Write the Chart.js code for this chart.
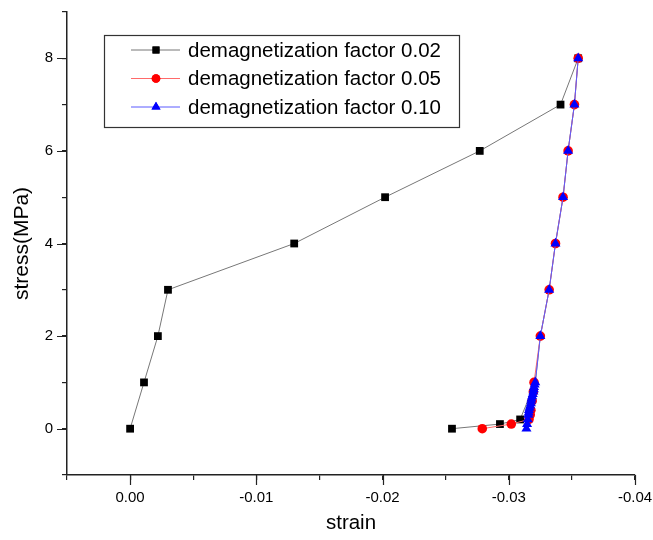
<!DOCTYPE html>
<html>
<head>
<meta charset="utf-8">
<script src="https://cdn.jsdelivr.net/npm/chart.js@4/dist/chart.umd.min.js"></script>
<style>
  body { margin: 0; background: #fff; }
  #wrap { width: 653px; height: 540px; }
</style>
</head>
<body>
<div id="wrap"><canvas id="chart" width="653" height="540"></canvas></div>
<script>
// values
const seriesNames = ["demagnetization factor 0.02", "demagnetization factor 0.05", "demagnetization factor 0.10"];

// factor 0.02: loading, then unloading along the steep branch
const strain002 = [0, -0.0011, -0.0022, -0.0030, -0.0130, -0.0202, -0.0277, -0.0341, -0.0355,
                   -0.0352, -0.0347, -0.0343, -0.0337, -0.0332, -0.0325, -0.0321,
                   -0.0309, -0.0293, -0.0255];
const stress002 = [0, 1, 2, 3, 4, 5, 6, 7, 8,
                   7, 6, 5, 4, 3, 2, 1,
                   0.2, 0.1, 0];
// unloading points 7..1 sit under the other markers and are not shown
const shown002 = [1, 1, 1, 1, 1, 1, 1, 1, 1,
                  0, 0, 0, 0, 0, 0, 0,
                  1, 1, 1];

// factor 0.05
const strain005 = [-0.0355, -0.0352, -0.0347, -0.0343, -0.0337, -0.0332, -0.0325, -0.0320,
                   -0.03195, -0.03185, -0.03175, -0.0317, -0.0316, -0.0302, -0.0279];
const stress005 = [8, 7, 6, 5, 4, 3, 2, 1,
                   0.8, 0.6, 0.4, 0.3, 0.2, 0.1, 0];

// factor 0.10
const strain010 = [-0.0355, -0.0352, -0.0347, -0.0343, -0.0337, -0.0332, -0.0325, -0.0321,
                   -0.03205, -0.0320, -0.03198, -0.03195, -0.0319, -0.03185, -0.0318, -0.03178,
                   -0.03175, -0.0317, -0.03165, -0.0316, -0.03158, -0.03155, -0.0315, -0.03145, -0.0314];
const stress010 = [8, 7, 6, 5, 4, 3, 2, 1,
                   0.95, 0.9, 0.85, 0.8, 0.75, 0.7, 0.65, 0.6,
                   0.55, 0.5, 0.45, 0.4, 0.35, 0.3, 0.2, 0.1, 0];

const xMajorLabels = [0, -0.01, -0.02, -0.03, -0.04];
const yMajorLabels = [0, 2, 4, 6, 8];

function toPoints(xs, ys) {
  return xs.map((x, i) => ({ x: x, y: ys[i] }));
}

const styles = [
  { line: "#777777", fill: "#000000", point: "rect", radius: 5.5 },
  { line: "#ff6a6a", fill: "#ff0000", point: "circle", radius: 4.8 },
  { line: "#5a5aff", fill: "#0000ff", point: "triangle", radius: 5.8 }
];

const datasets = [
  { data: toPoints(strain002, stress002), order: 3, pointRadius: shown002.map(s => s * styles[0].radius) },
  { data: toPoints(strain005, stress005), order: 2, pointRadius: styles[1].radius },
  { data: toPoints(strain010, stress010), order: 1, pointRadius: styles[2].radius }
].map((d, i) => Object.assign(d, {
  label: seriesNames[i],
  showLine: true,
  borderColor: styles[i].line,
  borderWidth: 1,
  pointStyle: styles[i].point,
  pointBackgroundColor: styles[i].fill,
  pointBorderColor: styles[i].fill,
  pointBorderWidth: 0,
  tension: 0
}));

// legend box inside the plot, plus longer major ticks
const boxLegend = {
  id: "boxLegend",
  afterDraw(chart) {
    const ctx = chart.ctx;
    const xs = chart.scales.x, ys = chart.scales.y;
    ctx.save();
    ctx.strokeStyle = "#222";
    ctx.lineWidth = 1.2;
    ctx.beginPath();
    xMajorLabels.forEach(v => {
      const px = Math.round(xs.getPixelForValue(v)) + 0.5;
      ctx.moveTo(px, xs.top);
      ctx.lineTo(px, xs.top + 10);
    });
    yMajorLabels.forEach(v => {
      const py = Math.round(ys.getPixelForValue(v)) + 0.5;
      ctx.moveTo(ys.right, py);
      ctx.lineTo(ys.right - 10, py);
    });
    ctx.stroke();

    const x0 = 104, y0 = 35, w = 355, h = 92;
    ctx.strokeStyle = "#333";
    ctx.strokeRect(x0 + 0.5, y0 + 0.5, w, h);
    ctx.font = "20.5px 'Liberation Sans', Arial, sans-serif";
    ctx.textBaseline = "middle";
    seriesNames.forEach((name, i) => {
      const y = 50 + i * 28.5;
      const s = styles[i];
      ctx.strokeStyle = s.line;
      ctx.lineWidth = 1;
      ctx.beginPath();
      ctx.moveTo(131, y);
      ctx.lineTo(180, y);
      ctx.stroke();
      ctx.fillStyle = s.fill;
      Chart.helpers.drawPoint(ctx, {
        pointStyle: s.point, radius: s.radius * 0.9, rotation: 0, borderWidth: 0
      }, 156, y);
      ctx.fill();
      ctx.fillStyle = "#000";
      ctx.fillText(name, 188, y + 1);
    });
    ctx.restore();
  }
};

const fontFamily = "'Liberation Sans', Arial, sans-serif";

new Chart(document.getElementById("chart"), {
  type: "scatter",
  data: { datasets: datasets },
  plugins: [boxLegend],
  options: {
    responsive: false,
    animation: false,
    layout: { padding: { top: 12, right: 18, left: 0, bottom: 0 } },
    plugins: { legend: { display: false }, tooltip: { enabled: false } },
    scales: {
      x: {
        type: "linear",
        reverse: true,
        min: -0.04,
        max: 0.005,
        afterFit(scale) {
          scale.height = 65;
          scale.paddingLeft = 0;
          scale.paddingRight = 0;
        },
        ticks: {
          stepSize: 0.005,
          color: "#000",
          font: { family: fontFamily, size: 15 },
          padding: 9,
          maxRotation: 0,
          autoSkip: false,
          callback(v) {
            const hit = xMajorLabels.find(m => Math.abs(m - v) < 1e-9);
            return hit === undefined ? "" : hit.toFixed(2);
          }
        },
        grid: { drawOnChartArea: false, drawTicks: true, tickLength: 5, color: "#222", lineWidth: 1.2 },
        border: { display: true, color: "#222", width: 1.5 },
        title: {
          display: true,
          text: "strain",
          color: "#000",
          font: { family: fontFamily, size: 20.5 },
          padding: { top: 0, bottom: 4 }
        }
      },
      y: {
        min: -1,
        max: 9,
        afterFit(scale) {
          scale.width = 67;
          scale.paddingTop = 0;
          scale.paddingBottom = 0;
        },
        ticks: {
          stepSize: 1,
          color: "#000",
          font: { family: fontFamily, size: 15 },
          padding: 9,
          callback(v) {
            return yMajorLabels.includes(v) ? String(v) : "";
          }
        },
        grid: { drawOnChartArea: false, drawTicks: true, tickLength: 5, color: "#222", lineWidth: 1.2 },
        border: { display: true, color: "#222", width: 1.5 },
        title: {
          display: true,
          text: "stress(MPa)",
          color: "#000",
          font: { family: fontFamily, size: 21 },
          padding: { top: 10, bottom: 0 }
        }
      }
    }
  }
});
</script>
</body>
</html>
